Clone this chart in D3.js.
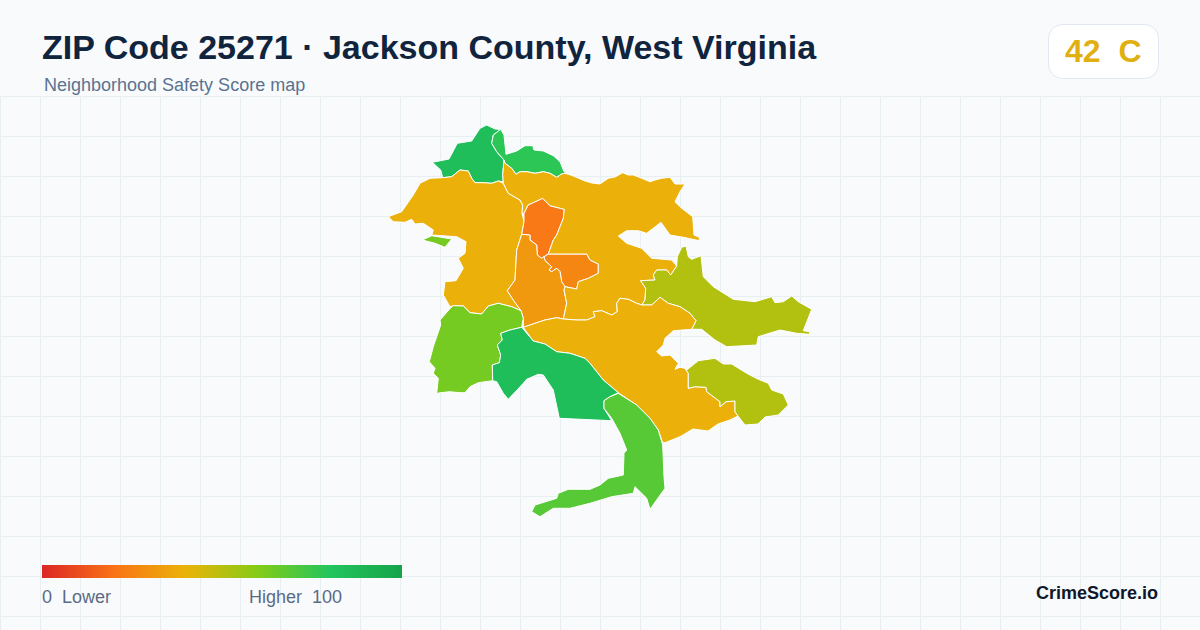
<!DOCTYPE html>
<html><head><meta charset="utf-8">
<script src="https://cdn.jsdelivr.net/npm/d3@7/dist/d3.min.js"></script>
<style>html,body{margin:0;padding:0;background:#f8fafc}svg{display:block}text{font-family:"Liberation Sans",Arial,sans-serif}</style>
</head><body><svg id="c" width="1200" height="630"></svg>
<script>
const title="ZIP Code 25271 · Jackson County, West Virginia";
const subtitle="Neighborhood Safety Score map";
const badgeText="42  C";
const brand="CrimeScore.io";
const legendLabels=["0  Lower","Higher  100"];
const colorStops=[0,20,40,60,80,100];
const colorValues=["#dc2626","#f97316","#eab308","#84cc16","#22c55e","#16a34a"];
const areaNames=["nw","n","w","patch","ctop","cright","cmid","ne","east","south","se","sw","sgreen","slime"];
const areaScores=[84,78,39,63,22,26,32,39,51,39,51,63,84,69];
const nw=[[432.3,162.3],[449,159],[457.3,143.3],[471.7,141],[480,128.3],[486.7,125],[495,129],[500.7,129.3],[493.3,135],[491.7,143.3],[496.7,151.7],[504,160],[502.7,175],[503.3,181.7],[498.3,181],[491.7,183.3],[483.3,182.7],[475,182.7],[471.7,178.3],[468.3,171],[460,170],[451.7,176.7],[442.7,177.7],[440.7,170]];
const n=[[500.7,129.3],[504,135],[506,154.3],[516.7,151],[525,145.7],[532.7,145.7],[534,150],[543.3,151],[553.3,155.7],[560,161.7],[564,171.7],[572.7,175.7],[565,173.3],[561.7,174],[556.7,177.3],[550,173.3],[543.3,171.7],[535,173.3],[526.7,171.7],[520,171.7],[516,174.3],[511.7,168.3],[505,163.3],[504,160],[496.7,151.7],[491.7,143.3],[493.3,135]];
const w=[[388.3,216.7],[401.7,211.7],[413.3,195],[420,183.3],[430,178.3],[442.7,177.7],[451.7,176.7],[460,170],[468.3,171],[471.7,178.3],[475,182.7],[483.3,182.7],[491.7,183.3],[498.3,181],[503.3,183.3],[508.3,193.3],[520,200],[522.7,205],[522,213.3],[524,221.7],[521.7,234.3],[516.7,250],[515,280],[507.3,290.7],[513.3,300],[521,310.7],[511.7,306.7],[498.3,303.3],[488.3,306],[481.7,314],[470,312.7],[463.3,306],[453.3,305.7],[450,306.7],[443.3,295],[445,281.7],[456,280.7],[463.3,268.3],[458.3,258.3],[465,253.3],[466,241.7],[456.7,236.7],[431.7,235],[433.3,230],[423.3,223.3],[415,224],[411.7,219.3],[405,222.3],[393.3,221.7]];
const patch=[[422.3,240],[431.7,235.7],[451.7,239],[445,247.3],[435,243.3]];
const ctop=[[524,213.3],[528,205],[542.7,198.3],[550,205.7],[564.3,209.3],[563.3,218.3],[556.7,235],[553.3,240],[548.3,254],[541.7,258.3],[537.3,255],[536.7,245],[530,240],[530,235],[521.7,234.3],[524,221.7]];
const cright=[[544,256.7],[548.3,254],[586.7,254],[590,260],[598.3,264],[598.3,273.3],[588.3,278.3],[578.3,281.7],[576.7,289],[565,286.7],[561.7,281.7],[560,271.7],[556.7,268.3],[551.7,271.7],[549,270],[551.7,266.7],[545,260.7]];
const cmid=[[521.7,234.3],[530,235],[530,240],[536.7,245],[537.3,255],[541.7,258.3],[544,256.7],[545,260.7],[551.7,266.7],[549,270],[551.7,271.7],[556.7,268.3],[560,271.7],[561.7,281.7],[565,286.7],[564,290],[566.7,303.3],[563.3,319],[556.7,317.7],[545,320],[535,323.3],[523.3,327.3],[523.3,318.3],[521,310.7],[513.3,300],[507.3,290.7],[515,280],[516.7,250]];
const ne=[[504,160],[505,163.3],[511.7,168.3],[516,174.3],[520,171.7],[526.7,171.7],[535,173.3],[543.3,171.7],[550,173.3],[556.7,177.3],[561.7,174],[565,173.3],[572.7,175.7],[585,181],[592,183],[600,184],[608.3,178.3],[615,177],[622.7,172.7],[628,175],[633.3,175],[641.7,178.3],[650,181.7],[655,180],[661.7,178.3],[670,177.3],[675,184],[685,184],[680,191.7],[675,201.7],[681.7,208.3],[692.7,216.7],[694,235],[699.3,237.3],[699.3,240.7],[683.3,237.3],[670,235],[661,222.3],[646.7,233.3],[638.3,230.7],[626.7,230.7],[618.3,236],[626.7,243.3],[641.7,248.3],[651.7,258.3],[671.7,260],[676.7,266],[670.7,275],[666.7,270],[656.7,270],[653.3,275],[655,280],[640.7,280.7],[645.7,288.3],[645,300],[641.7,305],[636.7,303.3],[628.3,299.3],[620,298.3],[616.7,303.3],[617.3,311.7],[611.7,315],[601.7,310.7],[593.3,311.7],[595,316.7],[586.7,320],[576.7,320],[563.3,319],[566.7,303.3],[564,290],[565,286.7],[576.7,289],[578.3,281.7],[588.3,278.3],[598.3,273.3],[598.3,264],[590,260],[586.7,254],[548.3,254],[553.3,240],[556.7,235],[563.3,218.3],[564.3,209.3],[550,205.7],[542.7,198.3],[528,205],[524,213.3],[522,213.3],[522.7,205],[520,200],[508.3,193.3],[503.3,183.3],[502.7,175]];
const east=[[676.7,266],[677.3,256.7],[681.7,247.3],[686,246],[688.3,256.7],[691.7,259.3],[701,255.7],[703.3,276.7],[713.3,286.7],[733.3,299.3],[755,301.7],[771.7,296.7],[775,302.7],[783.3,301.7],[791.7,296],[798.3,301.7],[811.7,309.3],[803.3,330.7],[810,331.7],[809.3,334.3],[796.7,333.3],[780,330],[758.3,336.7],[756.7,345],[726.7,346.7],[715,340],[701.7,329.3],[691.7,329.3],[696,320.7],[690,313.3],[680,306.7],[668.3,303.3],[660,297.3],[651.7,305],[641.7,305],[645,300],[645.7,288.3],[640.7,280.7],[655,280],[653.3,275],[656.7,270],[666.7,270],[670.7,275]];
const south=[[523.3,327.3],[535,323.3],[545,320],[556.7,317.7],[563.3,319],[576.7,320],[586.7,320],[595,316.7],[593.3,311.7],[601.7,310.7],[611.7,315],[617.3,311.7],[616.7,303.3],[620,298.3],[628.3,299.3],[636.7,303.3],[641.7,305],[651.7,305],[660,297.3],[668.3,303.3],[680,306.7],[690,313.3],[696,320.7],[691.7,329.3],[673.3,330.7],[665,338.3],[663.3,345],[656.7,351.7],[661.7,356],[670,355],[678.3,363.3],[675,369.3],[680,367.3],[685,368.3],[688.3,373.3],[688.3,388.3],[695,386.7],[706,387.3],[706.7,391.7],[720,401.7],[720,406.7],[726,401.7],[735,401],[735,411.7],[738,416],[730,420],[718,424],[708,431],[693,429],[680,436.7],[665,442.7],[662.7,442.7],[658.3,430],[650,418.3],[636.7,405],[618.3,392.7],[603.3,380],[590,363.3],[585,358.3],[570,353.3],[556.7,351.7],[545,344],[533.3,341]];
const se=[[685,368.3],[686.7,370],[698.3,360.7],[715,358.3],[723.3,364],[731.7,364],[746.7,373.3],[758.3,379.3],[768.3,383.3],[771.7,390],[783.3,394],[788.3,405],[778.3,415],[765,417],[758,424],[745,425],[738,416],[735,411.7],[735,401],[726,401.7],[720,406.7],[720,401.7],[706.7,391.7],[706,387.3],[695,386.7],[688.3,388.3],[688.3,373.3]];
const sw=[[521,310.7],[523.3,318.3],[521.7,327.3],[510,330],[500.7,333.3],[502.3,340],[497.3,345],[500.7,355],[499.3,362.7],[492.3,365],[492.7,380.7],[478.3,382.7],[470,386.7],[465,392.7],[460,392.7],[449.3,391.7],[436.7,393.3],[438.3,378.3],[433.3,373.3],[435,368.3],[429.3,361.7],[433.3,346.7],[440.7,325],[440,320],[451.7,306.7],[453.3,305.7],[463.3,306],[470,312.7],[481.7,314],[488.3,306],[498.3,303.3],[511.7,306.7]];
const sgreen=[[521.7,327.3],[533.3,341],[545,344],[556.7,351.7],[570,353.3],[585,358.3],[590,363.3],[603.3,380],[618.3,392.7],[610,396.7],[604,400.7],[604,408.3],[611.7,420.7],[559.3,418.3],[553.3,390],[543.3,375],[538.3,374.3],[526.7,379.3],[523.3,383.3],[508.3,399.3],[503.3,393.3],[496.7,381.7],[492.7,380.7],[492.3,365],[499.3,362.7],[500.7,355],[497.3,345],[502.3,340],[500.7,333.3],[510,330]];
const slime=[[618.3,393.3],[636.7,405],[650,418.3],[658.3,430],[662.7,445],[664,476.7],[665,488.3],[650,509.3],[646.7,498.3],[635,486.7],[633.3,493.3],[611.7,496.7],[590,503.3],[570,508.3],[553.3,508.3],[540,516.7],[531.7,511.7],[535,505],[556.7,498.3],[558.3,493.3],[568.3,489.3],[590,489.3],[600,485],[608.3,478.3],[623.3,475],[624,453.3],[626.7,450],[620,433.3],[611.7,418.3],[604,408.3],[604,400.7],[610,396.7]];
const areaRings=[nw,n,w,patch,ctop,cright,cmid,ne,east,south,se,sw,sgreen,slime];

const svg=d3.select("#c");
const color=d3.scaleLinear().domain(colorStops).range(colorValues);
const x=d3.scaleLinear().domain([380,820]).range([380,820]);
const y=d3.scaleLinear().domain([120,520]).range([120,520]);
const outline=d3.line().x(d=>x(d[0])).y(d=>y(d[1])).curve(d3.curveLinearClosed);

svg.append("rect").attr("width",1200).attr("height",630).attr("fill","#f8fafc");
const gridX=d3.range(0,1200,40),gridY=d3.range(96,630,40);
const grid=svg.append("g").attr("stroke","#e8eff3").attr("stroke-width",1).attr("shape-rendering","crispEdges");
grid.selectAll("line.v").data(gridX).join("line").attr("class","v").attr("x1",d=>d+.5).attr("x2",d=>d+.5).attr("y1",96).attr("y2",630);
grid.selectAll("line.h").data(gridY).join("line").attr("class","h").attr("x1",0).attr("x2",1200).attr("y1",d=>d+.5).attr("y2",d=>d+.5);

svg.append("g").selectAll("path").data(areaRings).join("path")
 .attr("d",d=>outline(d)).attr("fill",(d,i)=>color(areaScores[i]))
 .attr("stroke","#fff").attr("stroke-width",1).attr("stroke-linejoin","round");

svg.append("text").attr("x",42).attr("y",59).attr("font-size",34).attr("font-weight",700).attr("fill","#10243e").text(title);
svg.append("text").attr("x",44).attr("y",91).attr("font-size",18).attr("fill","#5b7390").text(subtitle);

svg.append("rect").attr("x",1048.5).attr("y",24.5).attr("width",110).attr("height",54).attr("rx",14).attr("fill","#fff").attr("stroke","#e2e8f0");
svg.append("text").attr("x",1065).attr("y",62).attr("font-size",32).attr("font-weight",700).attr("fill","#e0b010").style("white-space","pre").text(badgeText);

const defs=svg.append("defs");
const lg=defs.append("linearGradient").attr("id","lg");
lg.selectAll("stop").data(colorStops).join("stop").attr("offset",d=>d+"%").attr("stop-color",d=>color(d));
const legendX=d3.scaleLinear().domain([0,100]).range([42,402]);
svg.append("rect").attr("x",legendX(0)).attr("y",565).attr("width",legendX(100)-legendX(0)).attr("height",13).attr("fill","url(#lg)");
svg.append("text").attr("x",42).attr("y",603).attr("font-size",18).attr("fill","#5b6b85").style("white-space","pre").text(legendLabels[0]);
svg.append("text").attr("x",249).attr("y",603).attr("font-size",18).attr("fill","#5b6b85").style("white-space","pre").text(legendLabels[1]);
svg.append("text").attr("x",1158).attr("y",599).attr("text-anchor","end").attr("font-size",18).attr("font-weight",700).attr("fill","#0f172a").text(brand);
</script></body></html>
